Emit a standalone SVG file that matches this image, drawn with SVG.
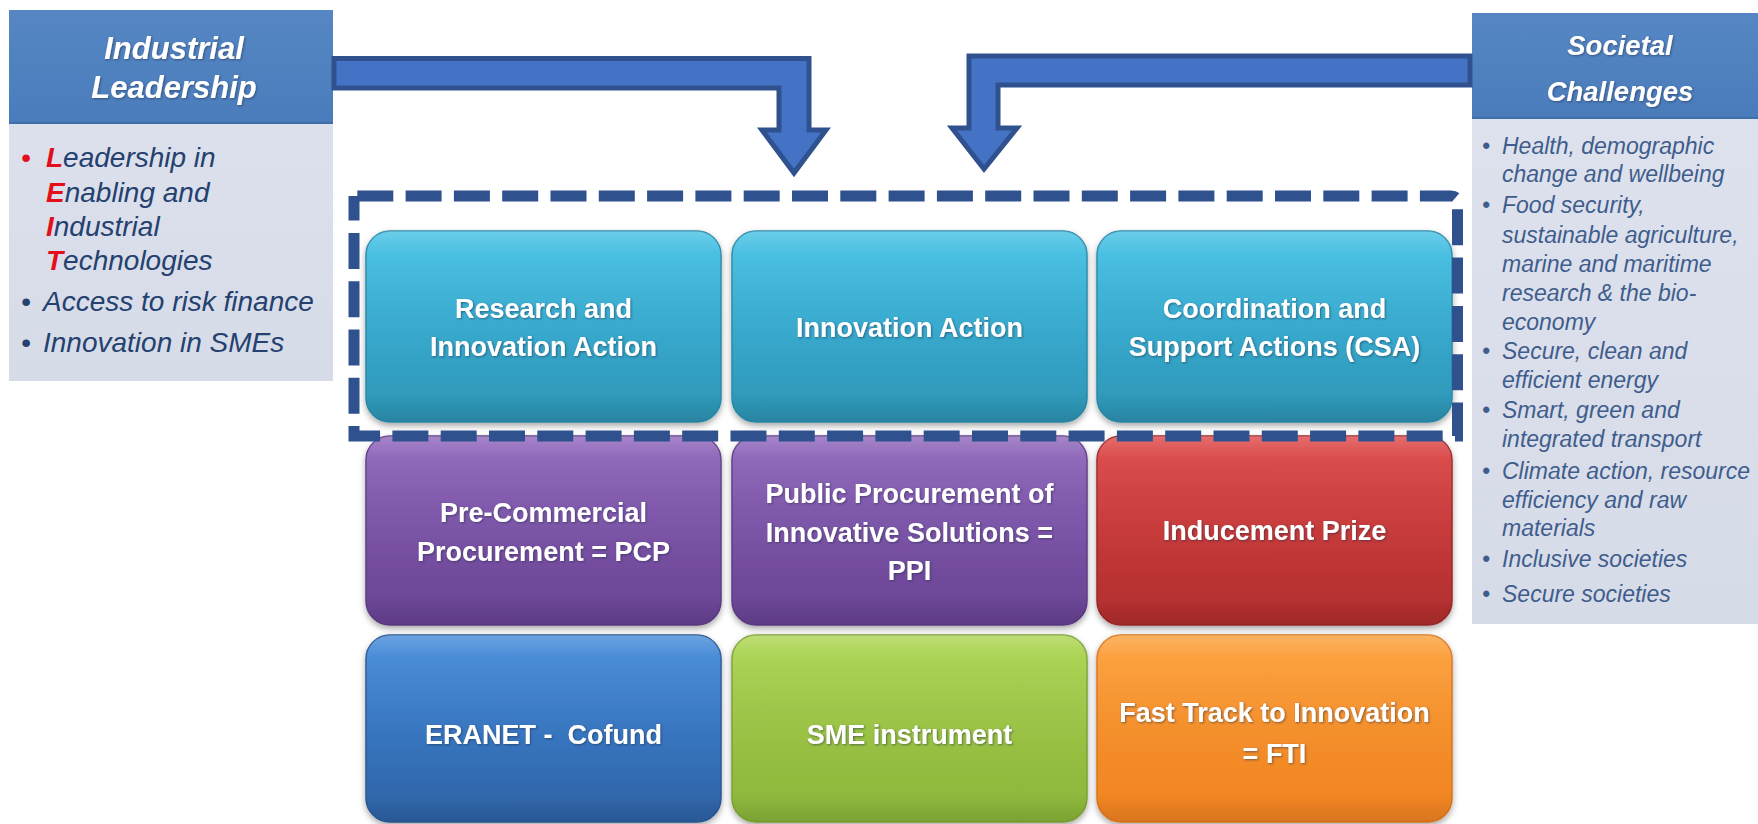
<svg xmlns="http://www.w3.org/2000/svg" width="1758" height="824" viewBox="0 0 1758 824">
  <defs>
    <linearGradient id="gTeal" x1="0" y1="0" x2="0" y2="1">
      <stop offset="0" stop-color="#41c0e4"/>
      <stop offset="0.5" stop-color="#37acd1"/>
      <stop offset="1" stop-color="#2d93b3"/>
    </linearGradient>
    <linearGradient id="gPurple" x1="0" y1="0" x2="0" y2="1">
      <stop offset="0" stop-color="#8d63ba"/>
      <stop offset="0.5" stop-color="#7b53a8"/>
      <stop offset="1" stop-color="#684292"/>
    </linearGradient>
    <linearGradient id="gRed" x1="0" y1="0" x2="0" y2="1">
      <stop offset="0" stop-color="#dd4444"/>
      <stop offset="0.5" stop-color="#c93939"/>
      <stop offset="1" stop-color="#b02d2d"/>
    </linearGradient>
    <linearGradient id="gBlue" x1="0" y1="0" x2="0" y2="1">
      <stop offset="0" stop-color="#4189da"/>
      <stop offset="0.5" stop-color="#3777c3"/>
      <stop offset="1" stop-color="#2e62a5"/>
    </linearGradient>
    <linearGradient id="gGreen" x1="0" y1="0" x2="0" y2="1">
      <stop offset="0" stop-color="#aad44d"/>
      <stop offset="0.5" stop-color="#9cc544"/>
      <stop offset="1" stop-color="#89b439"/>
    </linearGradient>
    <linearGradient id="gOrange" x1="0" y1="0" x2="0" y2="1">
      <stop offset="0" stop-color="#fd9e36"/>
      <stop offset="0.5" stop-color="#f8912b"/>
      <stop offset="1" stop-color="#f08221"/>
    </linearGradient>
    <linearGradient id="gHeader" x1="0" y1="0" x2="0" y2="1">
      <stop offset="0" stop-color="#5687c4"/>
      <stop offset="1" stop-color="#4a7cbb"/>
    </linearGradient>
    <linearGradient id="gBody" x1="0" y1="0" x2="0" y2="1">
      <stop offset="0" stop-color="#dfe3ee"/>
      <stop offset="1" stop-color="#d6dbe8"/>
    </linearGradient>
    <linearGradient id="gGloss" x1="0" y1="0" x2="0" y2="1">
      <stop offset="0" stop-color="#ffffff" stop-opacity="0.22"/>
      <stop offset="0.12" stop-color="#ffffff" stop-opacity="0.06"/>
      <stop offset="0.85" stop-color="#000000" stop-opacity="0"/>
      <stop offset="1" stop-color="#000000" stop-opacity="0.1"/>
    </linearGradient>
    <filter id="shadow" x="-5%" y="-5%" width="110%" height="115%">
      <feDropShadow dx="0" dy="3" stdDeviation="3" flood-color="#000" flood-opacity="0.35"/>
    </filter>
    <filter id="txtShadow" x="-5%" y="-20%" width="110%" height="140%">
      <feDropShadow dx="1" dy="1" stdDeviation="0.8" flood-color="#1a2a44" flood-opacity="0.55"/>
    </filter>
  </defs>
  <style>
    .box { stroke-width: 1.5; filter: url(#shadow); }
    .gloss { fill: url(#gGloss); stroke: none; }
    .btxt { font-family: "Liberation Sans", Arial, sans-serif; font-weight: bold; font-size: 27px; fill: #ffffff; text-anchor: middle; filter: url(#txtShadow); }
    .hdr { font-family: "Liberation Sans", Arial, sans-serif; font-weight: bold; font-style: italic; fill: #ffffff; text-anchor: middle; filter: url(#txtShadow); }
    .lbody { font-family: "Liberation Sans", Arial, sans-serif; font-style: italic; font-size: 28px; fill: #24416f; }
    .rbody { font-family: "Liberation Sans", Arial, sans-serif; font-style: italic; font-size: 23px; fill: #3f5d8c; }
    .red { fill: #e3101c; }
    .redb { fill: #e3101c; font-weight: bold; }
    .arrow { fill: #4472c4; stroke: #2f528f; stroke-width: 5; stroke-linejoin: miter; }
    .frame { fill: none; stroke: #2f528f; stroke-width: 11; stroke-dasharray: 36 12.3; }
  </style>

  <rect x="0" y="0" width="1758" height="824" fill="#ffffff"/>

  <!-- Left panel -->
  <g id="node-industrial">
    <rect x="9" y="10" width="324" height="371" fill="url(#gBody)"/>
    <rect x="9" y="10" width="324" height="113" fill="url(#gHeader)"/>
    <line x1="9" y1="123" x2="333" y2="123" stroke="#3f6ea8" stroke-width="2"/>
    <text class="hdr" font-size="31" x="174" y="59">Industrial</text>
    <text class="hdr" font-size="31" x="174" y="98">Leadership</text>
    <text class="lbody" y="167"><tspan x="21" class="red">•</tspan><tspan x="46" class="redb">L</tspan>eadership in</text>
    <text class="lbody" y="202"><tspan x="46" class="redb">E</tspan>nabling and</text>
    <text class="lbody" y="236"><tspan x="46" class="redb">I</tspan>ndustrial</text>
    <text class="lbody" y="270"><tspan x="46" class="redb">T</tspan>echnologies</text>
    <text class="lbody" y="311"><tspan x="21">•</tspan><tspan x="43">Access to risk finance</tspan></text>
    <text class="lbody" y="352"><tspan x="21">•</tspan><tspan x="43">Innovation in SMEs</tspan></text>
  </g>

  <!-- Right panel -->
  <g id="node-societal">
    <rect x="1472" y="13" width="286" height="611" fill="url(#gBody)"/>
    <rect x="1472" y="13" width="286" height="105" fill="url(#gHeader)"/>
    <line x1="1472" y1="118" x2="1758" y2="118" stroke="#3f6ea8" stroke-width="2"/>
    <text class="hdr" font-size="27.5" x="1620" y="55">Societal</text>
    <text class="hdr" font-size="27.5" x="1620" y="101">Challenges</text>
    <text class="rbody" y="154"><tspan x="1482">•</tspan><tspan x="1502">Health, demographic</tspan></text>
    <text class="rbody" x="1502" y="182">change and wellbeing</text>
    <text class="rbody" y="213"><tspan x="1482">•</tspan><tspan x="1502">Food security,</tspan></text>
    <text class="rbody" x="1502" y="243">sustainable agriculture,</text>
    <text class="rbody" x="1502" y="272">marine and maritime</text>
    <text class="rbody" x="1502" y="301">research &amp; the bio-</text>
    <text class="rbody" x="1502" y="330">economy</text>
    <text class="rbody" y="359"><tspan x="1482">•</tspan><tspan x="1502">Secure, clean and</tspan></text>
    <text class="rbody" x="1502" y="388">efficient energy</text>
    <text class="rbody" y="418"><tspan x="1482">•</tspan><tspan x="1502">Smart, green and</tspan></text>
    <text class="rbody" x="1502" y="447">integrated transport</text>
    <text class="rbody" y="479"><tspan x="1482">•</tspan><tspan x="1502">Climate action, resource</tspan></text>
    <text class="rbody" x="1502" y="508">efficiency and raw</text>
    <text class="rbody" x="1502" y="536">materials</text>
    <text class="rbody" y="567"><tspan x="1482">•</tspan><tspan x="1502">Inclusive societies</tspan></text>
    <text class="rbody" y="602"><tspan x="1482">•</tspan><tspan x="1502">Secure societies</tspan></text>
  </g>

  <!-- Connectors -->
  <g id="connectors">
    <path id="arrow-industrial" class="arrow" d="M 334,58.5 H 809 V 130 H 826 L 794,173 L 762,130 H 779 V 88 H 334 Z"/>
    <path id="arrow-societal" class="arrow" d="M 1470,56 H 969 V 128 H 952 L 984,169 L 1017,128 H 998 V 85 H 1470 Z"/>
  </g>

  <!-- Row 1 -->
  <g id="node-ria">
    <rect class="box" x="366" y="231" width="355" height="191" rx="24" fill="url(#gTeal)" stroke="#2a8bab"/>
    <rect class="gloss" x="366" y="231" width="355" height="191" rx="24"/>
    <text class="btxt" x="543.5" y="318">Research and</text>
    <text class="btxt" x="543.5" y="356">Innovation Action</text>
  </g>
  <g id="node-ia">
    <rect class="box" x="732" y="231" width="355" height="191" rx="24" fill="url(#gTeal)" stroke="#2a8bab"/>
    <rect class="gloss" x="732" y="231" width="355" height="191" rx="24"/>
    <text class="btxt" x="909.5" y="337">Innovation Action</text>
  </g>
  <g id="node-csa">
    <rect class="box" x="1097" y="231" width="355" height="191" rx="24" fill="url(#gTeal)" stroke="#2a8bab"/>
    <rect class="gloss" x="1097" y="231" width="355" height="191" rx="24"/>
    <text class="btxt" x="1274.5" y="318">Coordination and</text>
    <text class="btxt" x="1274.5" y="356">Support Actions (CSA)</text>
  </g>

  <!-- Row 2 -->
  <g id="node-pcp">
    <rect class="box" x="366" y="436" width="355" height="189" rx="24" fill="url(#gPurple)" stroke="#5e3c85"/>
    <rect class="gloss" x="366" y="436" width="355" height="189" rx="24"/>
    <text class="btxt" x="543.5" y="522">Pre-Commercial</text>
    <text class="btxt" x="543.5" y="561">Procurement = PCP</text>
  </g>
  <g id="node-ppi">
    <rect class="box" x="732" y="436" width="355" height="189" rx="24" fill="url(#gPurple)" stroke="#5e3c85"/>
    <rect class="gloss" x="732" y="436" width="355" height="189" rx="24"/>
    <text class="btxt" x="909.5" y="503">Public Procurement of</text>
    <text class="btxt" x="909.5" y="542">Innovative Solutions =</text>
    <text class="btxt" x="909.5" y="580">PPI</text>
  </g>
  <g id="node-prize">
    <rect class="box" x="1097" y="436" width="355" height="189" rx="24" fill="url(#gRed)" stroke="#9e2828"/>
    <rect class="gloss" x="1097" y="436" width="355" height="189" rx="24"/>
    <text class="btxt" x="1274.5" y="540">Inducement Prize</text>
  </g>

  <!-- Row 3 -->
  <g id="node-eranet">
    <rect class="box" x="366" y="635" width="355" height="187" rx="24" fill="url(#gBlue)" stroke="#2a5996"/>
    <rect class="gloss" x="366" y="635" width="355" height="187" rx="24"/>
    <text class="btxt" x="543.5" y="744" xml:space="preserve">ERANET -  Cofund</text>
  </g>
  <g id="node-sme">
    <rect class="box" x="732" y="635" width="355" height="187" rx="24" fill="url(#gGreen)" stroke="#7ea334"/>
    <rect class="gloss" x="732" y="635" width="355" height="187" rx="24"/>
    <text class="btxt" x="909.5" y="744">SME instrument</text>
  </g>
  <g id="node-fti">
    <rect class="box" x="1097" y="635" width="355" height="187" rx="24" fill="url(#gOrange)" stroke="#dc761c"/>
    <rect class="gloss" x="1097" y="635" width="355" height="187" rx="24"/>
    <text class="btxt" x="1274.5" y="722">Fast Track to Innovation</text>
    <text class="btxt" x="1274.5" y="763">= FTI</text>
  </g>

  <!-- Dashed grouping frame -->
  <g id="group-frame">
    <path class="frame" stroke-dashoffset="45" d="M 354,196 H 1451 Q 1457.5,196 1457.5,202 V 436 H 354 Z"/>
  </g>
</svg>
